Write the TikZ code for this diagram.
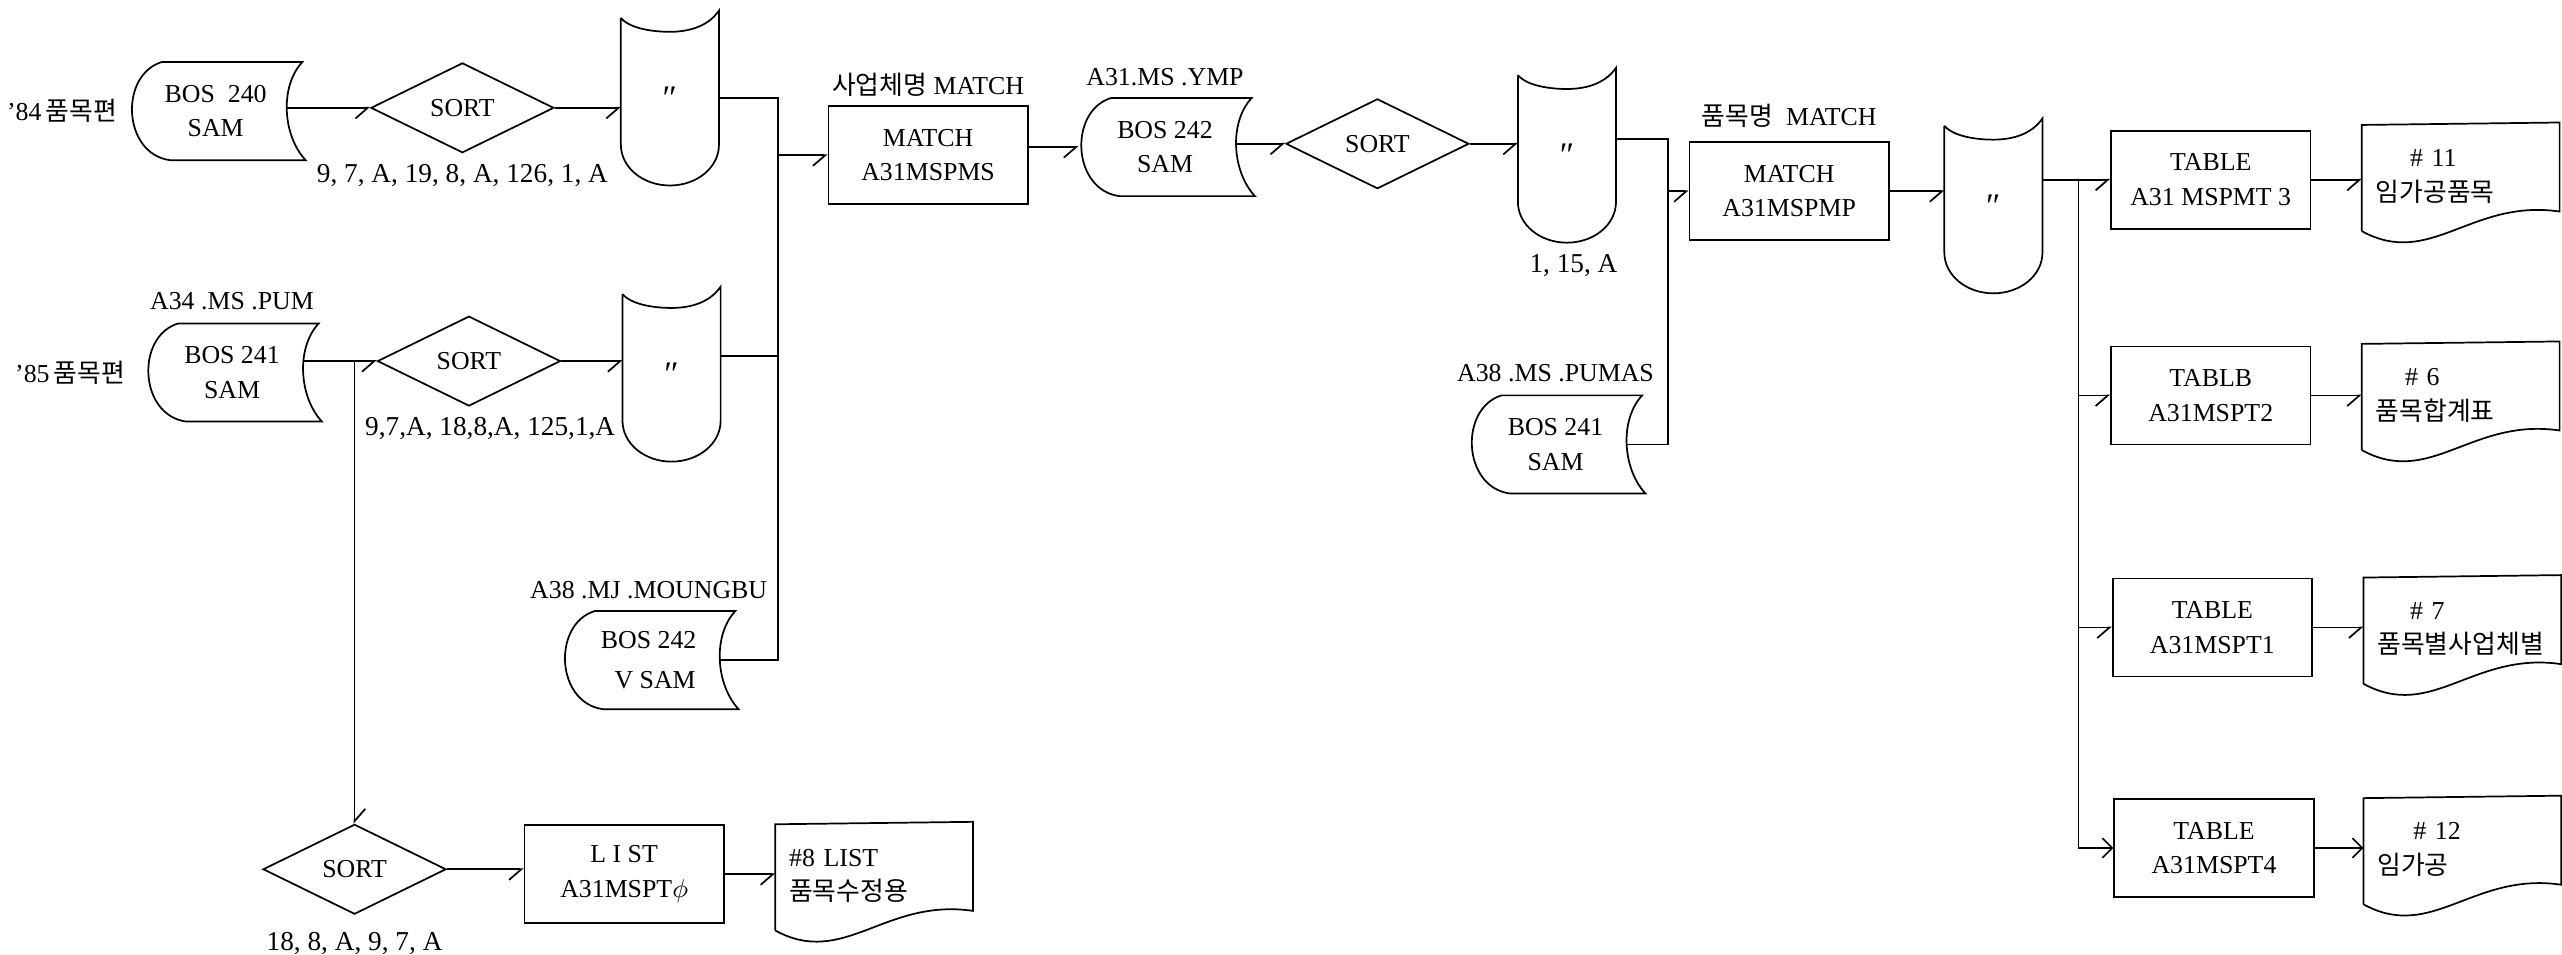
\documentclass[tikz,border=0pt]{standalone}
\usepackage{fontspec}
\setmainfont{Liberation Serif}
\newfontfamily\kr{Noto Sans CJK KR}
\usetikzlibrary{shapes.geometric, arrows.meta, positioning}

\begin{document}
\begin{tikzpicture}[
        x=0.2mm, y=-0.2mm,
        line width=0.6pt,
        font=\fontsize{9}{12}\selectfont,
        lbl/.style={inner sep=1pt, align=center},
        keylbl/.style={inner sep=1pt, font=\fontsize{9.5}{12}\selectfont},
        proc/.style={rectangle, draw, minimum width=24.4mm, minimum height=12mm, align=center},
        sortbox/.style={diamond, draw, minimum width=22.4mm, minimum height=11mm, inner sep=0pt},
        sdata/.style={minimum width=21mm, minimum height=11.8mm, inner sep=0pt, align=center,
            append after command={\pgfextra{\let\sdn\tikzlastnode
                \draw (\sdn.north east) -- ([xshift=4mm]\sdn.north west)
                    .. controls +(-5.2mm,-1.6mm) and +(-5.8mm,0.8mm) .. ([xshift=5mm]\sdn.south west)
                    -- ([xshift=0.4mm]\sdn.south east)
                    .. controls +(-2.8mm,3mm) and +(-2.8mm,-3mm) .. (\sdn.north east) -- cycle;}}},
        ostore/.style={minimum width=11.8mm, minimum height=21.2mm, inner sep=0pt,
            append after command={\pgfextra{\let\osn\tikzlastnode
                \draw ([yshift=-0.9mm]\osn.north west) -- ([yshift=5mm]\osn.south west)
                    .. controls +(0,-2.8mm) and +(-3.3mm,0) .. (\osn.south)
                    .. controls +(3.3mm,0) and +(0,-2.8mm) .. ([yshift=5mm]\osn.south east)
                    -- (\osn.north east)
                    .. controls +(-1.5mm,-2.2mm) and +(1.8mm,0) .. ([yshift=-2.6mm]\osn.north)
                    .. controls +(-1.8mm,0) and +(1.2mm,-1.4mm) .. ([yshift=-0.9mm]\osn.north west);}}},
        docu/.style={minimum height=12.4mm, text width=20.8mm, inner xsep=1.6mm, inner ysep=0pt, align=left,
            append after command={\pgfextra{\let\dcn\tikzlastnode
                \draw ([yshift=-13mm]\dcn.north west) -- (\dcn.north west) -- ([yshift=0.3mm]\dcn.north east)
                    -- ([yshift=-10.6mm]\dcn.north east)
                    .. controls +(-10.8mm,1.6mm) and +(8.4mm,-4.6mm) .. ([yshift=-13mm]\dcn.north west);}}},
        arr/.style={-{Straight Barb[right, length=1.5mm, width=2.6mm]}},
        arrl/.style={-{Straight Barb[left, length=1.5mm, width=2.6mm]}},
        arrf/.style={-{Straight Barb[length=1.2mm, width=2.4mm]}}
    ]
        \useasboundingbox (0,0) rectangle (1568,584);

        \node[sdata] (bos240) at (132,68) {BOS\ \ 240\\SAM};
        \node[sortbox] (sort1) at (283,66) {SORT};
        \node[ostore] (tape1) at (410,60) {\large ″};
        \node[sdata] (bos241) at (142,228) {BOS 241\\SAM};
        \node[sortbox] (sort3) at (287,221) {SORT};
        \node[ostore] (tape4) at (411,229) {\large ″};
        \node[sdata] (vsam) at (397,404) {BOS 242\\[2pt]\ \ V SAM};
        \node[sortbox] (sort4) at (217,532) {SORT};
        \node[proc] (list) at (382,535) {L I ST\\A31MSPT$\phi$};
        \node[docu] (doc8) at (535,536) {\#8 LIST\\{\kr 품목수정용}};

        \node[proc] (match1) at (568,95) {MATCH\\A31MSPMS};
        \node[sdata] (bos242) at (713,90) {BOS 242\\SAM};
        \node[sortbox] (sort2) at (843,88) {SORT};
        \node[ostore] (tape2) at (959,95) {\large ″};
        \node[sdata] (bos241b) at (952,272) {BOS 241\\SAM};
        \node[proc] (match2) at (1095,117) {MATCH\\A31MSPMP};
        \node[ostore] (tape3) at (1220,126) {\large ″};

        \node[proc] (tab1) at (1353,110) {TABLE\\A31 MSPMT 3};
        \node[proc] (tab2) at (1353,242) {TABLB\\A31MSPT2};
        \node[proc] (tab3) at (1354,384) {TABLE\\A31MSPT1};
        \node[proc] (tab4) at (1355,519) {TABLE\\A31MSPT4};
        \node[docu] (doc11) at (1506,108) {\hspace*{4.2mm}\# 11\\{\kr 임가공품목}};
        \node[docu] (doc6) at (1506,242) {\hspace*{3.6mm}\# 6\\{\kr 품목합계표}};
        \node[docu] (doc7) at (1507,385) {\hspace*{4mm}\# 7\\{\kr 품목별사업체별}};
        \node[docu] (doc12) at (1507,520) {\hspace*{4.4mm}\# 12\\{\kr 임가공}};

        \node[lbl, left=1mm of bos240] (y84) {’84\,{\kr 품목편}};
        \node[lbl, left=2mm of bos241] (y85) {’85\,{\kr 품목편}};
        \node[lbl, above=1.2mm of bos241] (pum) {A34 .MS .PUM};
        \node[lbl, above=1mm of vsam] (moungbu) {A38 .MJ .MOUNGBU};
        \node[lbl, above=1.2mm of bos241b] (pumas) {A38 .MS .PUMAS};
        \node[lbl, above=1mm of bos242] (ymp) {A31.MS .YMP};
        \node[lbl, above=0.6mm of match1] (match1lbl) {{\kr 사업체명} MATCH};
        \node[lbl, above=1.2mm of match2] (match2lbl) {{\kr 품목명}\ \ MATCH};
        \node[keylbl, below=0.8mm of sort1] (key1) {9, 7, A, 19, 8, A, 126, 1, A};
        \node[keylbl, below=0.8mm of sort3, xshift=2.6mm] (key3) {9,7,A, 18,8,A, 125,1,A};
        \node[keylbl, below=1mm of tape2, xshift=0.8mm] (key2) {1, 15, A};
        \node[keylbl, below=1.6mm of sort4] (key4) {18, 8, A, 9, 7, A};

        \coordinate (trunkA) at (476,0);
        \coordinate (trunkB) at (1021,0);
        \coordinate (trunkC) at (1272,0);

        \draw[arr] ([xshift=-1.9mm]bos240.east |- sort1.west) -- (sort1.west);
        \draw[arr] (sort1.east) -- (sort1.east -| tape1.west);
        \draw (tape1.east) -| (trunkA |- vsam.east) -- ([xshift=-1.9mm]vsam.east);
        \draw ([yshift=2.2mm]tape4.east) -- ([yshift=2.2mm]tape4.east -| trunkA);
        \draw[arr] ([xshift=-1.9mm]bos241.east |- sort3.west) -- (sort3.west);
        \draw[arr] (sort3.east) -- (sort3.east -| tape4.west);
        \draw[arrl] (sort4.north |- sort3.west) -- (sort4.north);
        \draw[arr] (sort4.east) -- (sort4.east -| list.west);
        \draw[arr] (list.east) -- (list.east -| doc8.west);

        \draw[arr] (trunkA |- match1.west) -- (match1.west);
        \draw[arr] (match1.east |- bos242.west) -- (bos242.west);
        \draw[arr] ([xshift=-1.9mm]bos242.east |- sort2.west) -- (sort2.west);
        \draw[arr] (sort2.east) -- (sort2.east -| tape2.west);
        \draw ([yshift=2mm]tape2.east) -| (trunkB |- bos241b.east) -- ([xshift=-1.9mm]bos241b.east);
        \draw[arr] (trunkB |- match2.west) -- (match2.west);
        \draw[arr] (match2.east) -- (match2.east -| tape3.west);

        \draw[arr] (tape3.east |- tab1.west) -- (tab1.west);
        \draw (trunkC |- tab1.west) -- (trunkC |- tab4.west);
        \draw[arr] (trunkC |- tab2.west) -- (tab2.west);
        \draw[arr] (trunkC |- tab3.west) -- (tab3.west);
        \draw[arrf] (trunkC |- tab4.west) -- (tab4.west);
        \draw[arr] (tab1.east) -- (tab1.east -| doc11.west);
        \draw[arr] (tab2.east) -- (tab2.east -| doc6.west);
        \draw[arr] (tab3.east) -- (tab3.east -| doc7.west);
        \draw[arrf] (tab4.east) -- (tab4.east -| doc12.west);
    \end{tikzpicture}
\end{document}
